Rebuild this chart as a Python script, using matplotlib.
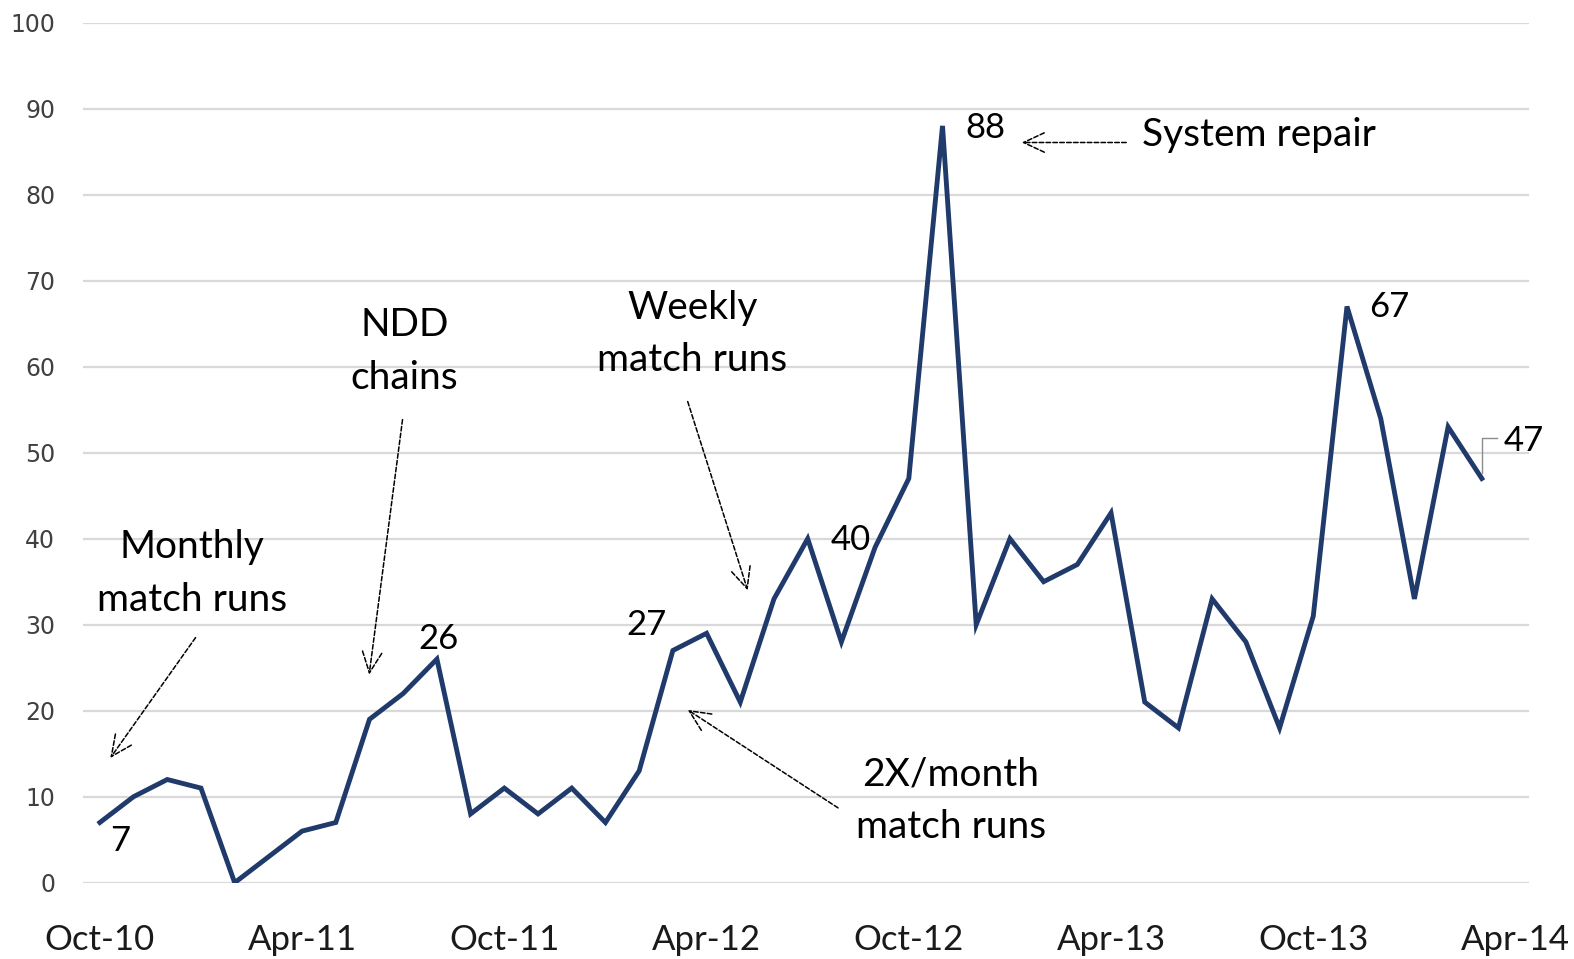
import matplotlib
matplotlib.use("Agg")
import matplotlib.pyplot as plt

months = ["Oct-10", "Nov-10", "Dec-10", "Jan-11", "Feb-11", "Mar-11", "Apr-11", "May-11",
          "Jun-11", "Jul-11", "Aug-11", "Sep-11", "Oct-11", "Nov-11", "Dec-11", "Jan-12",
          "Feb-12", "Mar-12", "Apr-12", "May-12", "Jun-12", "Jul-12", "Aug-12", "Sep-12",
          "Oct-12", "Nov-12", "Dec-12", "Jan-13", "Feb-13", "Mar-13", "Apr-13", "May-13",
          "Jun-13", "Jul-13", "Aug-13", "Sep-13", "Oct-13", "Nov-13", "Dec-13", "Jan-14",
          "Feb-14", "Mar-14"]
values = [7, 10, 12, 11, 0, 3, 6, 7,
          19, 22, 26, 8, 11, 8, 11, 7,
          13, 27, 29, 21, 33, 40, 28, 39,
          47, 88, 30, 40, 35, 37, 43, 21,
          18, 33, 28, 18, 31, 67, 54, 33,
          53, 47]
tick_labels = ["Oct-10", "Apr-11", "Oct-11", "Apr-12", "Oct-12", "Apr-13", "Oct-13", "Apr-14"]
tick_pos = [0, 6, 12, 18, 24, 30, 36, 42]
y_ticks = [0, 10, 20, 30, 40, 50, 60, 70, 80, 90, 100]

FONT = "Lato"
W, H = 1574, 959
fig = plt.figure(figsize=(W / 100, H / 100), dpi=100)
ax = fig.add_axes([83 / W, (H - 882.7) / H, (1529 - 83) / W, 860 / H])

x = list(range(len(values)))
ax.plot(x, values, color="#1F3A6B", lw=3.5, solid_joinstyle="miter", zorder=3)

ax.set_xlim(-0.5, 42.4)
ax.set_ylim(0, 100)
ax.set_yticks(y_ticks)
ax.set_xticks(tick_pos)
ax.set_xticklabels(tick_labels)
ax.yaxis.grid(True, color="#D9D9D9", lw=1.6)
ax.set_axisbelow(True)
for s in ax.spines.values():
    s.set_visible(False)
ax.tick_params(axis="both", length=0)
ax.tick_params(axis="y", pad=20, labelsize=17, labelcolor="#404040")
ax.tick_params(axis="x", pad=30, labelsize=25)
for lbl in ax.get_xticklabels():
    lbl.set_fontfamily(FONT)
    lbl.set_color("#1a1a1a")
for lbl in ax.get_yticklabels():
    lbl.set_fontfamily("DejaVu Sans")

tk = dict(fontfamily=FONT, fontsize=28, color="black", ha="center", va="center",
          linespacing=1.58)

# annotations
ax.text(2.74, 36.0, "Monthly\nmatch runs", **tk)
ax.text(9.04, 61.8, "NDD\nchains", **tk)
ax.text(17.58, 63.8, "Weekly\nmatch runs", **tk)
ax.text(25.24, 9.5, "2X/month\nmatch runs", **tk)
ax.text(30.93, 86.9, "System repair", fontfamily=FONT, fontsize=28, color="black",
        ha="left", va="center")

arr = dict(arrowstyle="->,head_length=1.5,head_width=0.7", color="black", lw=1.1,
           linestyle=(0, (3, 1.5)), shrinkA=0, shrinkB=0)
ax.annotate("", xy=(0.31, 14.5), xytext=(2.84, 28.5), arrowprops=arr)
ax.annotate("", xy=(7.99, 24.2), xytext=(8.98, 53.85), arrowprops=arr)
ax.annotate("", xy=(19.22, 34.0), xytext=(17.44, 55.95), arrowprops=arr)
ax.annotate("", xy=(17.44, 20.1), xytext=(21.9, 8.7), arrowprops=arr)
ax.annotate("", xy=(27.35, 86.07), xytext=(30.45, 86.07), arrowprops=arr)

# data labels
lab = dict(fontfamily=FONT, fontsize=25, color="black", ha="center", va="center")
ax.text(0.61, 4.8, "7", **lab)
ax.text(10.05, 28.3, "26", **lab)
ax.text(16.21, 30.0, "27", **lab)
ax.text(22.29, 39.85, "40", **lab)
ax.text(26.28, 87.8, "88", **lab)
ax.text(38.26, 66.9, "67", **lab)
ax.text(42.25, 51.4, "47", **lab)
ax.plot([41.02, 41.02, 41.44], [47.6, 51.7, 51.7], color="#8C8C8C", lw=1.0,
        clip_on=False, zorder=2)

fig.savefig("out.png", dpi=100, facecolor="white")
